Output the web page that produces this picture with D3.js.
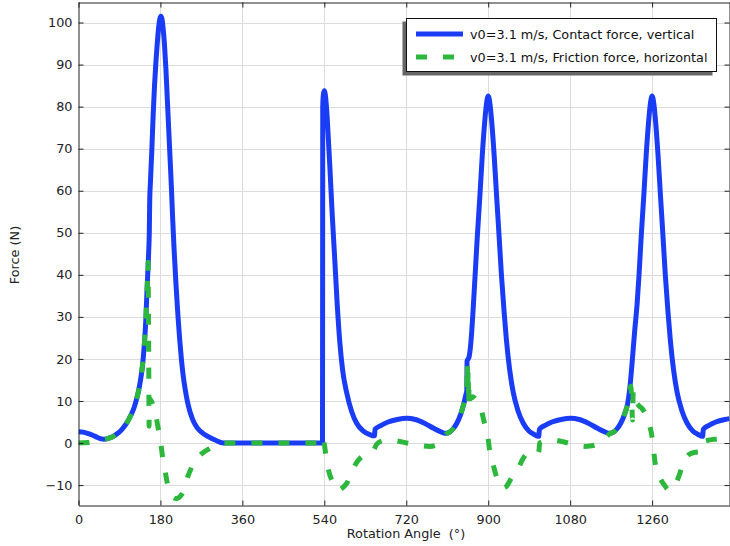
<!DOCTYPE html>
<html>
<head>
<meta charset="utf-8">
<script src="https://cdn.jsdelivr.net/npm/d3@7"></script>
<style>
  html, body { margin: 0; padding: 0; background: #fff; }
  svg { display: block; font-family: "DejaVu Sans", sans-serif; }
  text { white-space: pre; }
</style>
</head>
<body>
<svg id="chart" width="730" height="546"></svg>
<script>
// ---------- DATA ----------
const xTicks = [0, 180, 360, 540, 720, 900, 1080, 1260];
const yTicks = [-10, 0, 10, 20, 30, 40, 50, 60, 70, 80, 90, 100];
const seriesNames = ["v0=3.1 m/s, Contact force, vertical", "v0=3.1 m/s, Friction force, horizontal"];

const contactAngle = [0,10,20,30,40,50,56,65,75,85,95,105,115,122,128,133,138,142,145,148,150,152,154,155.5,156.5,158,161,164,167,170,173,176,178.5,181,183.5,186,189,192,195,198,201,204,207,210,214,218,222,226,230,234,241,250,260,270,285,300,318,
  536,536.5,538,540,542,545,548,552,557,563,568,574,580,589,600,611,625,640,650,651.5,665,680,700,721,740,760,780,795,806,815,823,831,840,846,851,853,853.5,858,862,867,871,876,882,887,892,896,900,904,908,913,918,924,929,935,940,947,955,965,977,990,1000,1011,
  1012.5,1025,1040,1060,1081,1100,1120,1140,1155,1166,1175,1183,1191,1200,1206,1211,1216,1222,1227,1231,1236,1242,1247,1252,1256,1260,1264,1268,1273,1278,1284,1289,1295,1300,1307,1315,1325,1337,1350,1360,1371,1372.5,1385,1400,1420,1430];
const contactForce = [2.7,2.6,2.3,1.9,1.4,1.0,0.9,1.1,1.5,2.2,3.2,4.6,6.6,8.4,10.6,13,16.2,20,24,29.5,35,40,45,50,58,62,69.5,78,85,90.5,95,98.8,100.8,101.5,100.8,98.5,94.5,89,82,75,68,61,53,46,38,31,25,20,16,13,9,5.8,3.7,2.6,1.5,0.7,0,
  0,80,83,83.8,83,79.5,74,66,55,43.5,33.5,24,17.5,12,7.5,4.7,2.9,2.0,1.7,3.3,4.2,5.0,5.6,5.9,5.6,4.7,3.5,2.7,2.3,2.6,3.4,4.7,7,9.2,11.5,12.5,19.5,20.5,24,32,39.5,49,59.3,68.5,76,80.5,82.5,80.5,76,68.5,59.5,49,40,31,24.5,17.5,12,7.8,4.7,2.8,2.1,1.6,
  3.3,4.2,5.0,5.6,5.9,5.6,4.7,3.5,2.7,2.3,2.6,3.4,4.7,7,9.2,13,19,27,33,39.5,49,59.3,68.5,76,80.5,82.5,80.5,76,68.5,59.5,49,40,31,24.5,17.5,12,7.8,4.7,2.8,2.1,1.6,3.3,4.2,5.0,5.6,5.8];

const frictionAngle = [0,20,35,50,56,65,75,85,95,105,115,122,128,133,138,142,145,148,150,152,153,153.5,154,154.5,155,155.5,160,165,170,175,180,185,190,195,200,207,215,225,232,240,250,258,270,285,300,318,
  536,537,539,541,545,550,557,563,570,578,589,598,605,612,625,640,647,655,662,677,700,721,745,772,790,800,806,815,823,831,840,846,851,853,854,855,856,857,858,860,866,872,880,886,890,895,899,904,910,919,926,932,940,951,960,966,975,988,1000,1011,
  1013,1025,1042,1064,1090,1113,1135,1150,1160,1168,1175,1183,1191,1200,1206,1210,1213,1215,1217,1218.5,1222,1230,1238,1244,1250,1255,1259,1263,1267,1272,1278,1287,1297,1305,1313,1320,1328,1336,1345,1355,1367,1370,1372,1385,1400,1415,1430];
const frictionForce = [0,0.1,0.4,0.9,0.9,1.1,1.5,2.2,3.2,4.6,6.6,8.4,10.6,13,16.2,20,24,29.5,35,40,43,35,25,15,4,10.5,10,8.5,6.5,3.5,0.5,-3.5,-6.5,-9.5,-11.5,-12.8,-13.2,-12.5,-11,-8,-5.5,-4,-2.6,-1.5,-0.6,0,
  0,1.2,0.5,-1,-4,-6.8,-9,-10.6,-11.2,-10.8,-9.6,-7.5,-5.8,-4.5,-3,-2,-1.8,-0.3,0.3,0.7,0.5,0,-0.5,-0.8,-0.3,0.8,2.0,2.6,3.4,4.7,7,9.2,11.5,13,19,13,17.5,9,14,10.5,11,10.5,9,7.4,5.5,3.5,1.5,-2.4,-4.8,-8.3,-10,-10.7,-10.3,-8.3,-6.8,-6,-4,-2.2,-1.8,-2.2,
  0,0.5,0.7,0.3,-0.4,-0.8,-0.5,0.3,1.5,2.3,2.6,3.4,4.7,7,9.2,11.5,13.5,11,5.5,12.5,10.5,9,8.2,7.2,5.5,3.9,2,-1.5,-5,-7,-8.5,-10,-11.2,-10.8,-9.5,-7.5,-5,-3.2,-2.5,-2.2,-2,-1,0.3,0.7,0.9,1.0,1.1];

// ---------- LAYOUT ----------
const svg = d3.select("#chart");
const pL = 78.5, pR = 729.5, pT = 2.5, pB = 505.5;
const x = d3.scaleLinear().domain([0, 1430]).range([pL, pR]);
const y = d3.scaleLinear().domain([-14.74, 104.88]).range([505, 2]);

const blue = "#1a3cf5", green = "#2db83d", axisCol = "#222";
const fs = 12.8;

// gridlines
svg.append("g").selectAll("line").data(xTicks.filter(d => d > 0)).join("line")
  .attr("x1", d => Math.round(x(d)) + 0.5).attr("x2", d => Math.round(x(d)) + 0.5)
  .attr("y1", pT).attr("y2", pB).attr("stroke", "#dcdcdc").attr("stroke-width", 1);
svg.append("g").selectAll("line").data(yTicks).join("line")
  .attr("y1", d => Math.round(y(d)) + 0.5).attr("y2", d => Math.round(y(d)) + 0.5)
  .attr("x1", pL).attr("x2", pR).attr("stroke", "#dcdcdc").attr("stroke-width", 1);

// clip
svg.append("clipPath").attr("id", "clip").append("rect")
  .attr("x", pL).attr("y", pT).attr("width", pR - pL).attr("height", pB - pT);

const lineGen = (ang, val) => d3.line()
  .x(i => x(ang[i])).y(i => y(val[i]))
  .curve(d3.curveMonotoneX)(d3.range(ang.length));

const plot = svg.append("g").attr("clip-path", "url(#clip)");
plot.append("path").attr("d", lineGen(contactAngle, contactForce))
  .attr("fill", "none").attr("stroke", blue).attr("stroke-width", 5).attr("stroke-linejoin", "round");
plot.append("path").attr("d", lineGen(frictionAngle, frictionForce))
  .attr("fill", "none").attr("stroke", green).attr("stroke-width", 5)
  .attr("stroke-dasharray", "11,16");

// axes (frame with inward ticks)
const bottomAxis = d3.axisBottom(x).tickValues(xTicks).tickSizeInner(-5).tickSizeOuter(0).tickPadding(9).tickFormat(d3.format("d"));
const topAxis = d3.axisTop(x).tickValues(xTicks).tickSizeInner(-5).tickSizeOuter(0).tickFormat("");
const leftAxis = d3.axisLeft(y).tickValues(yTicks).tickSizeInner(-5).tickSizeOuter(0).tickPadding(6).tickFormat(d3.format("d"));
const rightAxis = d3.axisRight(y).tickValues(yTicks).tickSizeInner(-5).tickSizeOuter(0).tickFormat("");

function styleAxis(g) {
  g.select(".domain").attr("stroke", axisCol);
  g.selectAll(".tick line").attr("stroke", axisCol);
  g.selectAll(".tick text").attr("fill", "#222").attr("font-size", fs).attr("font-family", "DejaVu Sans");
}
svg.append("g").attr("transform", `translate(0,${pB})`).call(bottomAxis).call(styleAxis);
svg.append("g").attr("transform", `translate(0,${pT})`).call(topAxis).call(styleAxis);
svg.append("g").attr("transform", `translate(${pL},0)`).call(leftAxis).call(styleAxis);
svg.append("g").attr("transform", `translate(${pR},0)`).call(rightAxis).call(styleAxis);

// axis titles
svg.append("text").attr("x", 406).attr("y", 538).attr("text-anchor", "middle")
  .attr("font-size", fs).attr("fill", "#222").text("Rotation Angle  (°)");
svg.append("text").attr("transform", "translate(19,255) rotate(-90)").attr("text-anchor", "middle")
  .attr("font-size", fs).attr("fill", "#222").text("Force (N)");

// legend
const lg = svg.append("g");
lg.append("rect").attr("x", 402.5).attr("y", 21.5).attr("width", 310).attr("height", 54).attr("fill", "#666");
lg.append("rect").attr("x", 406.5).attr("y", 18.5).attr("width", 310).attr("height", 53).attr("fill", "#fff").attr("stroke", "#111").attr("stroke-width", 1);
const legendItems = [{name: seriesNames[0], color: blue, dash: null}, {name: seriesNames[1], color: green, dash: "11,16"}];
legendItems.forEach((d, i) => {
  const yy = 34 + i * 23;
  lg.append("line").attr("x1", 416).attr("x2", 463).attr("y1", yy).attr("y2", yy)
    .attr("stroke", d.color).attr("stroke-width", 5).attr("stroke-dasharray", d.dash);
  lg.append("text").attr("x", 470).attr("y", yy + 4.5).attr("font-size", fs).attr("fill", "#111").text(d.name);
});
</script>
</body>
</html>
